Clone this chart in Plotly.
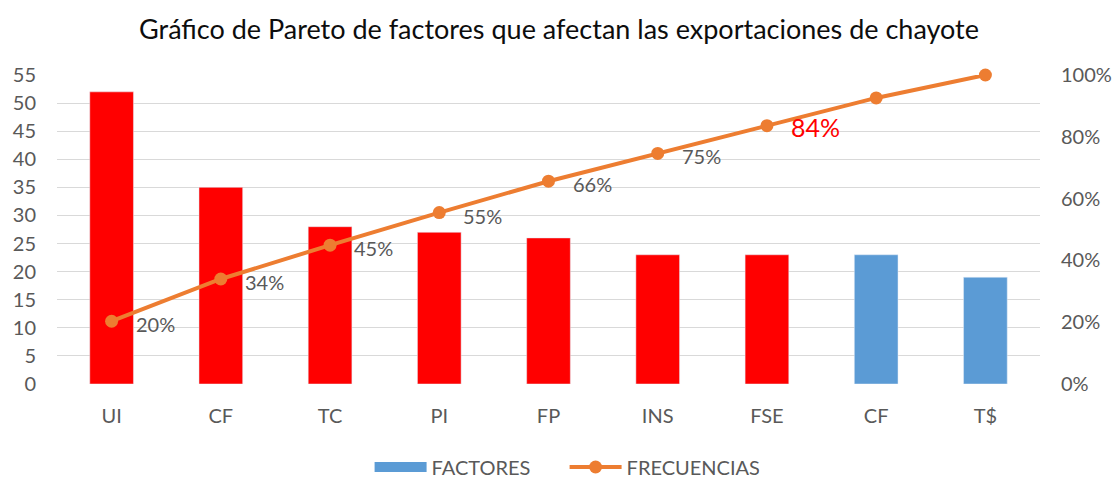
import plotly.graph_objects as go

# Factors and their frequencies
categorias = ["UI", "CF", "TC", "PI", "FP", "INS", "FSE", "CF", "T$"]
frecuencias = [52, 35, 28, 27, 26, 23, 23, 23, 19]
# Factors in the vital 80% are highlighted in red
vitales = [True, True, True, True, True, True, True, False, False]
etiquetas_visibles = [True, True, True, True, True, True, True, False, False]

total = sum(frecuencias)
acumulado = []
s = 0
for f in frecuencias:
    s += f
    acumulado.append(s / total)

posiciones = list(range(len(categorias)))
gris = "#595959"
rojo = "#FF0000"
azul = "#5B9BD5"
naranja = "#ED7D31"
fuente = "Lato, 'Open Sans', sans-serif"
ALTO = 479

colores_barras = [rojo if v else azul for v in vitales]

fig = go.Figure()
fig.add_trace(go.Bar(
    x=posiciones, y=frecuencias, marker_color=colores_barras, width=0.4,
    showlegend=False, hoverinfo="y",
))
# Legend entry for the bar series
fig.add_trace(go.Scatter(
    x=[None], y=[None], mode="lines", name="FACTORES",
    line=dict(color=azul, width=15),
))
fig.add_trace(go.Scatter(
    x=posiciones, y=acumulado, yaxis="y2", name="FRECUENCIAS",
    mode="lines+markers",
    line=dict(color=naranja, width=4),
    marker=dict(color=naranja, size=13),
    cliponaxis=False,
))

# Cumulative percentage labels beside each point
for i, (p, vis) in enumerate(zip(acumulado, etiquetas_visibles)):
    if not vis:
        continue
    destacado = i == 6
    fig.add_annotation(
        x=posiciones[i], y=p, xref="x", yref="y2",
        text=f"{round(p * 100):.0f}%", showarrow=False,
        xanchor="left", yanchor="middle",
        xshift=22, yshift=-1 if destacado else -3,
        font=dict(size=25 if destacado else 20, color=rojo if destacado else gris,
                  family=fuente),
    )

fig.update_layout(
    width=1118, height=ALTO,
    margin=dict(l=57, r=78, t=75, b=95, autoexpand=False),
    paper_bgcolor="white", plot_bgcolor="white",
    font=dict(family=fuente, size=20, color=gris),
    title=dict(
        text="Gráfico de Pareto de factores que afectan las exportaciones de chayote",
        x=0.5, xref="container", y=1 - 30 / ALTO, yref="container", yanchor="middle",
        font=dict(size=27, color="#0D0D0D"),
    ),
    xaxis=dict(
        tickmode="array", tickvals=posiciones, ticktext=categorias,
        range=[-0.5, len(categorias) - 0.5], showgrid=False, zeroline=False,
        showline=False, ticks="", ticklabelstandoff=18, automargin=False,
    ),
    yaxis=dict(
        range=[0, 55], dtick=5, showgrid=True, gridcolor="#D9D9D9", gridwidth=1,
        zeroline=False, ticks="", ticklabelstandoff=20, automargin=False,
    ),
    yaxis2=dict(
        range=[0, 1], dtick=0.2, tickformat=".0%", overlaying="y", side="right",
        showgrid=False, zeroline=False, ticks="", ticklabelstandoff=20,
        automargin=False,
    ),
    legend=dict(
        orientation="h", xref="container", x=0.505, xanchor="center",
        yref="container", y=12 / ALTO, yanchor="middle",
        font=dict(size=20, color=gris), itemwidth=52, entrywidth=128,
    ),
)

fig.write_html("out.html")
